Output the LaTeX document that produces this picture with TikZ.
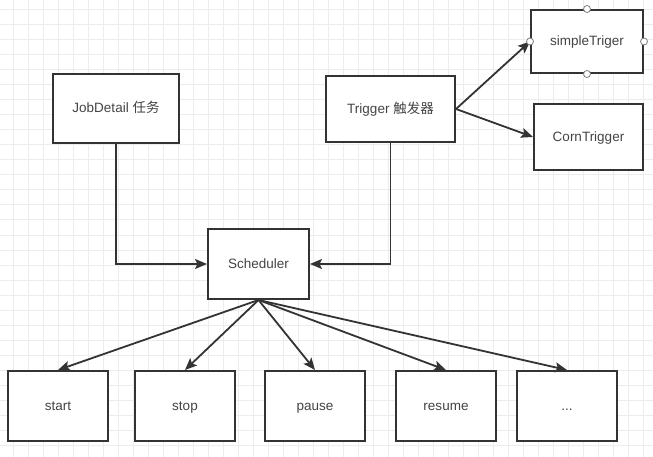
\documentclass[tikz,border=0pt]{standalone}
\usepackage{fontspec}
\setmainfont{Liberation Sans}
\newfontfamily\cjk{Noto Sans CJK SC}
\usetikzlibrary{arrows.meta}
\definecolor{ln}{HTML}{333333}
\definecolor{tx}{HTML}{444444}
\definecolor{gridminor}{HTML}{ECECEC}
\begin{document}
\begin{tikzpicture}[x=1pt,y=-1pt,
  box/.style={draw=ln,line width=2pt,fill=white,inner sep=0pt,
    font=\fontsize{13.5}{15}\selectfont,text=tx,text height=10pt,text depth=1pt},
  conn/.style={draw=ln,line width=1.8pt,-{Stealth[length=12pt,width=10pt,inset=2.5pt]}},
  port/.style={circle,draw=gray,fill=white,minimum size=7pt,inner sep=0pt,line width=0.8pt}]
\useasboundingbox (0,0) rectangle (653,457);
\fill[white] (0,0) rectangle (653,457);
% grid
\foreach \i in {0,...,43} {
  \pgfmathsetmacro{\gx}{13+15*\i}
  \draw[gridminor,line width=1pt] (\gx,0) -- (\gx,457);
}
\foreach \j in {0,...,30} {
  \pgfmathsetmacro{\gy}{10+15*\j}
  \draw[gridminor,line width=1pt] (0,\gy) -- (653,\gy);
}
% boxes
\node[box,minimum width=126pt,minimum height=69pt] (job) at (116,108.5) {JobDetail {\cjk 任务}};
\node[box,minimum width=129pt,minimum height=66pt] (trig) at (390.5,109) {Trigger {\cjk 触发器}};
\node[box,minimum width=112pt,minimum height=63pt] (simple) at (587,41.5) {simpleTriger};
\node[box,minimum width=109pt,minimum height=66pt] (corn) at (588.5,137) {CornTrigger};
\node[box,minimum width=101pt,minimum height=70pt] (sch) at (258.5,264) {Scheduler};
\node[box,minimum width=100pt,minimum height=70pt] (start) at (58,406) {start};
\node[box,minimum width=100pt,minimum height=70pt] (stop) at (185,406) {stop};
\node[box,minimum width=100pt,minimum height=70pt] (pause) at (315,406) {pause};
\node[box,minimum width=100pt,minimum height=70pt] (resume) at (446,406) {resume};
\node[box,minimum width=100pt,minimum height=70pt] (more) at (567,406) {...};
% connectors
\draw[conn] (job.south) |- (sch.west);
\draw[conn] (trig.south) |- (sch.east);
\draw[conn] (trig.east) -- (simple.west);
\draw[conn] (trig.east) -- (corn.west);
\foreach \b in {start,stop,pause,resume,more}
  \draw[conn] (sch.south) -- (\b.north);
% ports on simpleTriger
\foreach \a in {north,south,east,west}
  \node[port] (p-\a) at (simple.\a) {};
\end{tikzpicture}
\end{document}
